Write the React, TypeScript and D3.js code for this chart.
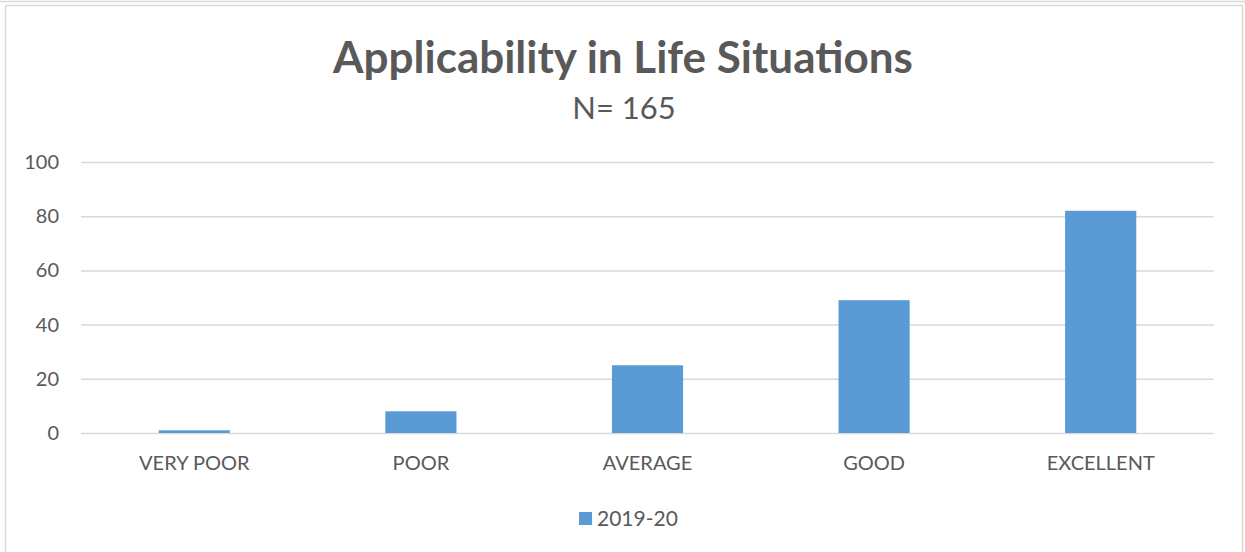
import React, { useEffect, useRef } from "react";
import * as d3 from "d3";

const categories = ["VERY POOR", "POOR", "AVERAGE", "GOOD", "EXCELLENT"];
const values2019 = [1, 8, 25, 49, 82];
const yTicks = [0, 20, 40, 60, 80, 100];
const seriesName = "2019-20";

const W = 1245;
const H = 552;

export default function App() {
  const svgRef = useRef<SVGSVGElement | null>(null);

  useEffect(() => {
    const svg = d3.select(svgRef.current);
    svg.selectAll("*").remove();

    const font = "Lato, 'Open Sans', sans-serif";
    const textColor = "#595959";

    // outer frame
    svg.append("line").attr("x1", 0).attr("x2", W).attr("y1", 1.5).attr("y2", 1.5)
      .attr("stroke", "#d9d9d9").attr("stroke-width", 1.5);
    svg.append("rect").attr("x", 5.5).attr("y", 5.5).attr("width", 1237).attr("height", 560)
      .attr("fill", "#fff").attr("stroke", "#d9d9d9").attr("stroke-width", 1.5);

    const x = d3.scaleBand().domain(categories).range([81, 1214]).paddingInner(0.686).paddingOuter(0.343);
    const y = d3.scaleLinear().domain([0, 100]).range([433, 162]);

    // title
    svg.append("text").attr("x", 623).attr("y", 73).attr("text-anchor", "middle")
      .attr("font-family", font).attr("font-weight", "bold").attr("font-size", 44)
      .attr("fill", textColor).text("Applicability in Life Situations");
    svg.append("text").attr("x", 624).attr("y", 119).attr("text-anchor", "middle")
      .attr("font-family", font).attr("font-size", 31)
      .attr("fill", textColor).text("N= 165");

    // gridlines + y labels
    const yAxis = d3.axisLeft(y).tickValues(yTicks).tickSize(-(1214 - 81)).tickPadding(22);
    const gy = svg.append("g").attr("transform", "translate(81,0)").call(yAxis);
    gy.select(".domain").remove();
    gy.selectAll("line").attr("stroke", "#d9d9d9").attr("stroke-width", 1.5);
    gy.selectAll("text").attr("font-family", font).attr("font-size", 20).attr("fill", textColor);

    // x labels
    const xAxis = d3.axisBottom(x).tickSize(0).tickPadding(23);
    const gx = svg.append("g").attr("transform", "translate(0,433)").call(xAxis);
    gx.select(".domain").remove();
    gx.selectAll("text").attr("font-family", font).attr("font-size", 20).attr("fill", textColor);

    // bars
    svg.append("g").selectAll("rect").data(values2019).join("rect")
      .attr("x", (d, i) => x(categories[i])!)
      .attr("width", x.bandwidth())
      .attr("y", (d) => y(d))
      .attr("height", (d) => y(0) - y(d))
      .attr("fill", "#5b9bd5");

    // legend
    const lg = svg.append("g").attr("transform", "translate(579,512)");
    lg.append("rect").attr("width", 13).attr("height", 13).attr("fill", "#5b9bd5");
    lg.append("text").attr("x", 18).attr("y", 14).attr("font-family", font).attr("font-size", 21)
      .attr("fill", textColor).text(seriesName);
  }, []);

  return (
    <div style={{ position: "absolute", left: 0, top: 0 }}>
      <svg ref={svgRef} width={W} height={H} style={{ display: "block" }}></svg>
    </div>
  );
}
